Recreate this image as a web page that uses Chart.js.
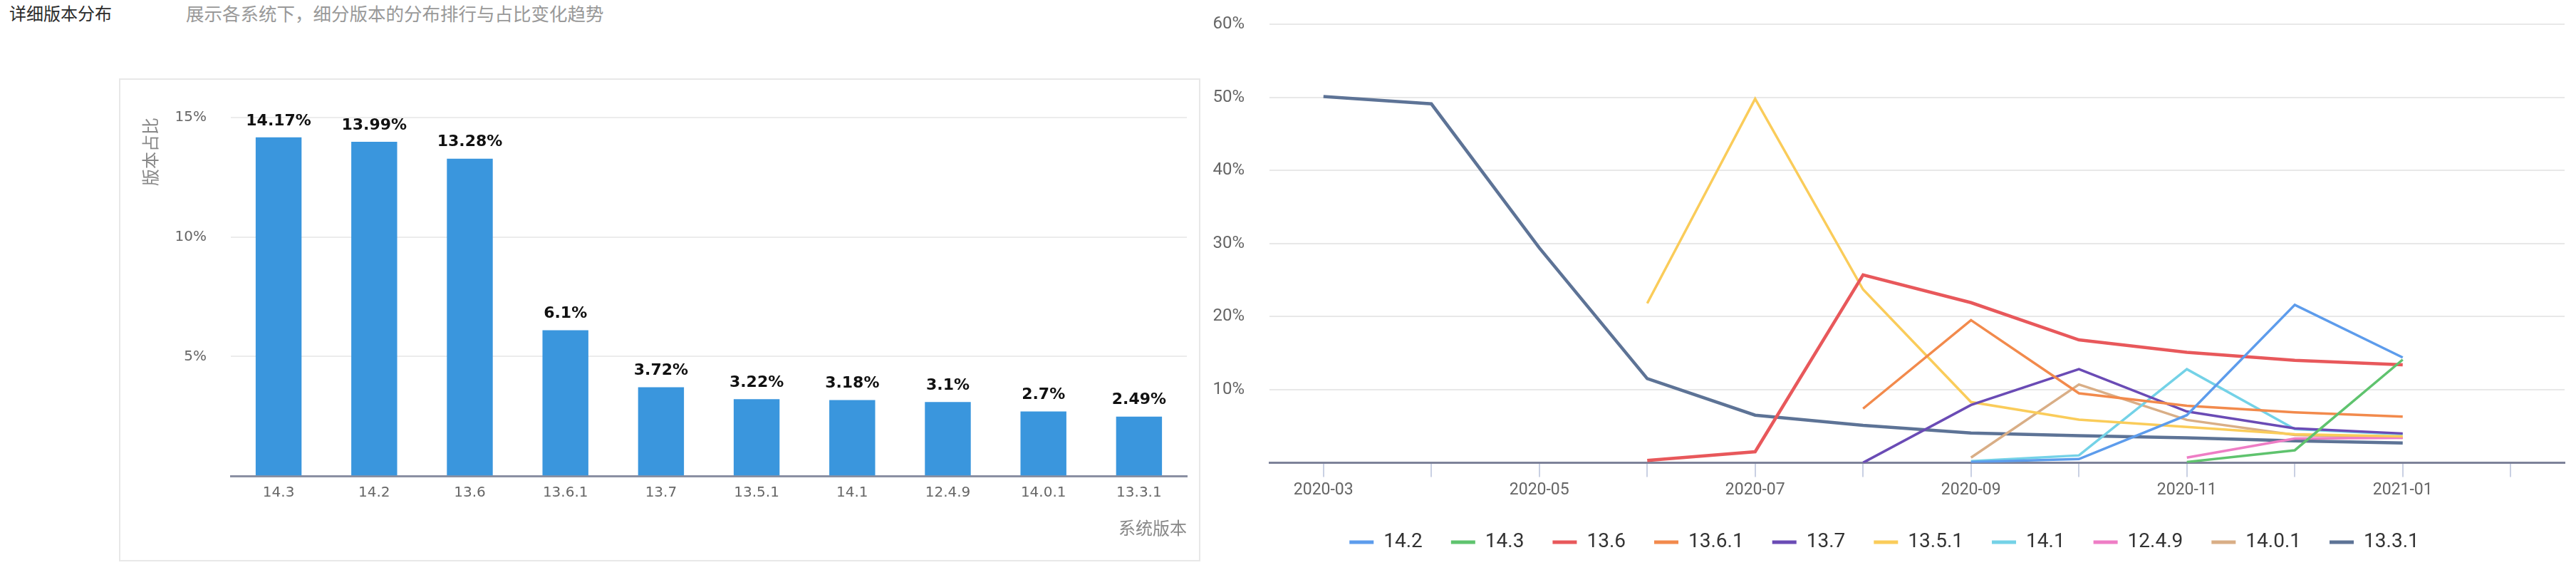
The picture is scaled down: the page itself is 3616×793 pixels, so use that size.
<!DOCTYPE html>
<html>
<head>
<meta charset="utf-8">
<script src="https://cdn.jsdelivr.net/npm/chart.js@4/dist/chart.umd.min.js"></script>
<style>
  html, body { margin: 0; padding: 0; background: #fff; }
  body { width: 3616px; height: 793px; overflow: hidden; position: relative; font-family: "Noto Sans CJK SC", sans-serif; }
  .title { position: absolute; left: 13px; top: 0px; font-size: 24px; color: #2b2b2b; line-height: 36px; }
  .subtitle { position: absolute; left: 261px; top: 0px; font-size: 25.5px; color: #999; line-height: 36px; }
  .panel { position: absolute; left: 167px; top: 110px; width: 1514px; height: 674px; border: 2px solid #e8e8e8; box-sizing: content-box; }
  #barWrap { position: absolute; left: 0; top: 0; width: 1512px; height: 672px; }
  #lineWrap { position: absolute; left: 1690px; top: 0; width: 1926px; height: 788px; }
</style>
</head>
<body>
<div class="title">详细版本分布</div>
<div class="subtitle">展示各系统下，细分版本的分布排行与占比变化趋势</div>
<div class="panel"><div id="barWrap"><canvas id="barChart"></canvas></div></div>
<div id="lineWrap"><canvas id="lineChart"></canvas></div>
<script>
// bar chart data
const versions = ['14.3', '14.2', '13.6', '13.6.1', '13.7', '13.5.1', '14.1', '12.4.9', '14.0.1', '13.3.1'];
const shareValues = [14.17, 13.99, 13.28, 6.1, 3.72, 3.22, 3.18, 3.1, 2.7, 2.49];
const barTicks = [5, 10, 15];

// line chart data
const months = ['2020-03', '2020-04', '2020-05', '2020-06', '2020-07', '2020-08', '2020-09', '2020-10', '2020-11', '2020-12', '2021-01', '2021-02'];
const v14_2   = [null, null, null, null, null, null, 0.1, 0.5, 6.5, 21.6, 14.4, null];
const v14_3   = [null, null, null, null, null, null, null, null, 0.1, 1.7, 14.1, null];
const v13_6   = [null, null, null, 0.3, 1.5, 25.7, 21.9, 16.8, 15.1, 14.0, 13.4, null];
const v13_6_1 = [null, null, null, null, null, 7.4, 19.5, 9.5, 7.8, 6.9, 6.3, null];
const v13_7   = [null, null, null, null, null, 0, 7.9, 12.8, 7.0, 4.7, 4.0, null];
const v13_5_1 = [null, null, null, 21.8, 49.8, 23.7, 8.3, 5.9, 4.9, 3.9, 3.6, null];
const v14_1   = [null, null, null, null, null, null, 0.2, 1.0, 12.8, 4.6, 3.9, null];
const v12_4_9 = [null, null, null, null, null, null, null, null, 0.7, 3.3, 3.4, null];
const v14_0_1 = [null, null, null, null, null, null, 0.7, 10.7, 5.85, 3.8, 3.4, null];
const v13_3_1 = [50.1, 49.1, 29.4, 11.5, 6.5, 5.1, 4.05, 3.7, 3.4, 3.0, 2.7, null];
const lineTicks = [10, 20, 30, 40, 50, 60];

const seriesNames = ['14.2', '14.3', '13.6', '13.6.1', '13.7', '13.5.1', '14.1', '12.4.9', '14.0.1', '13.3.1'];
const seriesData = [v14_2, v14_3, v13_6, v13_6_1, v13_7, v13_5_1, v14_1, v12_4_9, v14_0_1, v13_3_1];
const seriesColors = ['#5d9cec', '#5fc36e', '#e8585b', '#f28a4c', '#6a4bb5', '#facc5a', '#74d2e7', '#ee7dc5', '#d9ae86', '#5d7396'];
const seriesWidths = [3.5, 3.5, 4.5, 3.5, 3.5, 3.5, 3.5, 3.5, 3.5, 4.5];

// value labels over bars
const barLabels = {
  id: 'barLabels',
  afterDatasetsDraw(chart) {
    const ctx = chart.ctx;
    const meta = chart.getDatasetMeta(0);
    ctx.save();
    ctx.font = 'bold 22px "DejaVu Sans"';
    ctx.fillStyle = '#111';
    ctx.textAlign = 'center';
    ctx.textBaseline = 'bottom';
    meta.data.forEach((bar, i) => {
      ctx.fillText(shareValues[i] + '%', bar.x, bar.y - 12);
    });
    ctx.restore();
  }
};

new Chart(document.getElementById('barChart'), {
  type: 'bar',
  data: {
    labels: versions,
    datasets: [{
      data: shareValues,
      backgroundColor: '#3a96dd',
      categoryPercentage: 1,
      barPercentage: 0.48
    }]
  },
  options: {
    responsive: true,
    maintainAspectRatio: false,
    animation: false,
    layout: { padding: { top: 53, right: 15, bottom: 29, left: 0 } },
    plugins: { legend: { display: false }, tooltip: { enabled: false } },
    scales: {
      x: {
        grid: { drawOnChartArea: false, drawTicks: false },
        border: { display: true, color: '#8a90a2', width: 3 },
        ticks: { color: '#666', font: { family: 'DejaVu Sans', size: 20 }, padding: 12 },
        title: { display: true, text: '系统版本', align: 'end', color: '#888',
                 font: { family: 'Noto Sans CJK SC', size: 24 }, padding: { top: 10, bottom: 0 } }
      },
      y: {
        min: 0, max: 15,
        afterFit: (scale) => { scale.width = 155; },
        afterBuildTicks: (scale) => { scale.ticks = [0].concat(barTicks).map(v => ({ value: v })); },
        grid: { color: (c) => c.tick && c.tick.value === 0 ? 'rgba(0,0,0,0)' : '#ececec', lineWidth: 2, drawTicks: false },
        border: { display: false },
        ticks: { color: '#666', font: { family: 'DejaVu Sans', size: 20 }, padding: 34,
                 callback: (v) => v === 0 ? '' : v + '%' },
        title: { display: true, text: '版本占比', align: 'end', color: '#888',
                 font: { family: 'Noto Sans CJK SC', size: 24 }, padding: { top: 27, bottom: 0 } }
      }
    }
  },
  plugins: [barLabels]
});

new Chart(document.getElementById('lineChart'), {
  type: 'line',
  data: {
    labels: months,
    datasets: seriesNames.map((name, i) => ({
      label: name,
      data: seriesData[i],
      borderColor: seriesColors[i],
      backgroundColor: seriesColors[i],
      borderWidth: seriesWidths[i],
      pointRadius: 0,
      tension: 0,
      spanGaps: false
    }))
  },
  options: {
    responsive: true,
    maintainAspectRatio: false,
    animation: false,
    layout: { padding: { top: 34, right: 16, bottom: 3, left: 0 } },
    plugins: {
      tooltip: { enabled: false },
      legend: {
        position: 'bottom',
        labels: {
          color: '#333',
          font: { family: 'Roboto', size: 28 },
          boxWidth: 34,
          boxHeight: 5,
          padding: 40,
          generateLabels: (chart) => Chart.defaults.plugins.legend.labels.generateLabels(chart)
            .map(item => Object.assign(item, { lineWidth: 0 }))
        }
      }
    },
    scales: {
      x: {
        offset: true,
        grid: { drawOnChartArea: false, drawTicks: true, tickLength: 20, color: '#c9d0e3', lineWidth: 2 },
        border: { display: true, color: '#7d8299', width: 3 },
        ticks: { color: '#666', font: { family: 'Roboto', size: 23 }, padding: 5, autoSkip: false, maxRotation: 0,
                 callback: (v, i) => i % 2 === 0 ? months[i] : '' }
      },
      y: {
        min: 0, max: 60,
        afterFit: (scale) => { scale.width = 92; },
        afterBuildTicks: (scale) => { scale.ticks = [0].concat(lineTicks).map(v => ({ value: v })); },
        grid: { color: (c) => c.tick && c.tick.value === 0 ? 'rgba(0,0,0,0)' : '#e8e8e8', lineWidth: 2,
                drawTicks: true, tickLength: 35, tickColor: 'rgba(0,0,0,0)' },
        border: { display: false },
        ticks: { color: '#666', font: { family: 'Roboto', size: 24 }, padding: 0,
                 callback: (v) => v === 0 ? '' : v + '%' }
      }
    }
  }
});
</script>
</body>
</html>
